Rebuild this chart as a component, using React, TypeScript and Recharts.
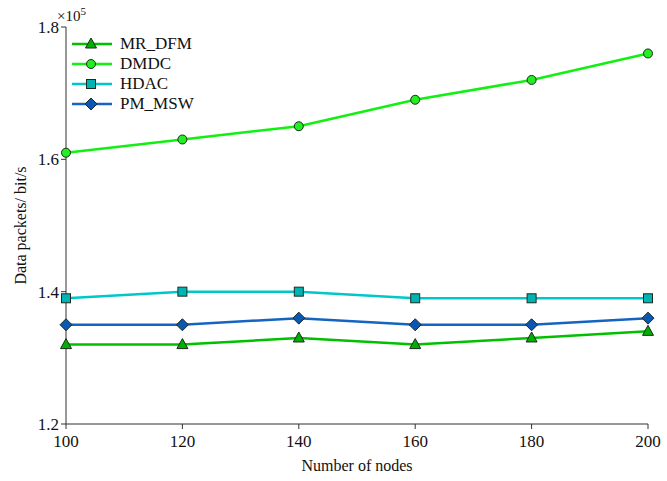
import React from 'react';
import { LineChart, Line, XAxis, YAxis, Legend } from 'recharts';

const nodes = [100, 120, 140, 160, 180, 200];
const mrDfm = [1.32, 1.32, 1.33, 1.32, 1.33, 1.34];
const dmdc = [1.61, 1.63, 1.65, 1.69, 1.72, 1.76];
const hdac = [1.39, 1.40, 1.40, 1.39, 1.39, 1.39];
const pmMsw = [1.35, 1.35, 1.36, 1.35, 1.35, 1.36];
const xTicks = [100, 120, 140, 160, 180, 200];
const yTicks = [1.2, 1.4, 1.6, 1.8];

const data = nodes.map((n, i) => ({
    nodes: n,
    mrDfm: mrDfm[i],
    dmdc: dmdc[i],
    hdac: hdac[i],
    pmMsw: pmMsw[i],
}));

type Shape = 'triangle' | 'circle' | 'square' | 'diamond';

const series: { key: string; name: string; line: string; fill: string; shape: Shape }[] = [
    { key: 'mrDfm', name: 'MR_DFM', line: '#00c000', fill: '#00b000', shape: 'triangle' },
    { key: 'dmdc', name: 'DMDC', line: '#11f011', fill: '#22ee22', shape: 'circle' },
    { key: 'hdac', name: 'HDAC', line: '#00c8c8', fill: '#00b4b4', shape: 'square' },
    { key: 'pmMsw', name: 'PM_MSW', line: '#1464c0', fill: '#0a58b4', shape: 'diamond' },
];

const FONT = '"Liberation Serif", "Times New Roman", serif';
const AXIS = '#333';
const EDGE = '#1e2a1e';

const Marker = ({ cx, cy, shape, fill }: { cx: number; cy: number; shape: Shape; fill: string }) => {
    if (cx == null || cy == null) return null;
    if (shape === 'circle') return <circle cx={cx} cy={cy} r={4.5} fill={fill} stroke={EDGE} strokeWidth={1} />;
    if (shape === 'square') return <rect x={cx - 4.5} y={cy - 4.5} width={9} height={9} fill={fill} stroke={EDGE} strokeWidth={1} />;
    if (shape === 'diamond')
        return <polygon points={`${cx},${cy - 6} ${cx + 6},${cy} ${cx},${cy + 6} ${cx - 6},${cy}`} fill={fill} stroke={EDGE} strokeWidth={1} />;
    return <polygon points={`${cx},${cy - 6} ${cx + 5.5},${cy + 4} ${cx - 5.5},${cy + 4}`} fill={fill} stroke={EDGE} strokeWidth={1} />;
};

const LegendBox = () => (
    <div style={{ fontFamily: FONT, fontSize: 17, color: '#111' }}>
        {series.map((s) => (
            <div key={s.key} style={{ display: 'flex', alignItems: 'center', height: 20 }}>
                <svg width={44} height={16} style={{ marginRight: 5 }}>
                    <line x1={1} y1={8} x2={41} y2={8} stroke={s.line} strokeWidth={2.5} />
                    <Marker cx={20} cy={8} shape={s.shape} fill={s.fill} />
                </svg>
                <span>{s.name}</span>
            </div>
        ))}
    </div>
);

export default function App() {
    return (
        <div style={{ position: 'absolute', left: 0, top: 0, width: 667, height: 481, background: '#fff', fontFamily: FONT }}>
            <LineChart width={667} height={481} data={data} margin={{ top: 27, right: 19, bottom: 27, left: 0 }}>
                <XAxis
                    dataKey="nodes"
                    type="number"
                    domain={[100, 200]}
                    ticks={xTicks}
                    height={30}
                    stroke={AXIS}
                    tickSize={5}
                    tick={{ fontSize: 17, fill: '#111', fontFamily: FONT, dy: 4 }}
                    label={{ value: 'Number of nodes', position: 'insideBottom', offset: -17, fontSize: 16, fill: '#111', fontFamily: FONT }}
                />
                <XAxis xAxisId="top" orientation="top" type="number" domain={[100, 200]} height={0} tick={false} tickLine={false} stroke={AXIS} />
                <YAxis
                    type="number"
                    domain={[1.2, 1.8]}
                    ticks={yTicks}
                    width={66}
                    stroke={AXIS}
                    tickSize={5}
                    tickFormatter={(v: number) => v.toFixed(1)}
                    tick={{ fontSize: 17, fill: '#111', fontFamily: FONT }}
                    label={{ value: 'Data packets/ bit/s', angle: -90, position: 'insideLeft', offset: 20, fontSize: 16, fill: '#111', fontFamily: FONT, style: { textAnchor: 'middle' } }}
                />
                <YAxis yAxisId="right" orientation="right" type="number" domain={[1.2, 1.8]} width={0} tick={false} tickLine={false} stroke={AXIS} />
                <Legend
                    layout="vertical"
                    align="center"
                    verticalAlign="middle"
                    content={() => <LegendBox />}
                    wrapperStyle={{ left: 71, top: 34, width: 'auto' }}
                />
                {series.map((s) => (
                    <Line
                        key={s.key}
                        dataKey={s.key}
                        name={s.name}
                        stroke={s.line}
                        strokeWidth={2.5}
                        isAnimationActive={false}
                        dot={(p: any) => <Marker key={`${s.key}-${p.index}`} cx={p.cx} cy={p.cy} shape={s.shape} fill={s.fill} />}
                        activeDot={false}
                    />
                ))}
            </LineChart>
            <div style={{ position: 'absolute', left: 57, top: 5, fontSize: 15, color: '#111' }}>
                ×10<sup style={{ fontSize: 11 }}>5</sup>
            </div>
        </div>
    );
}
